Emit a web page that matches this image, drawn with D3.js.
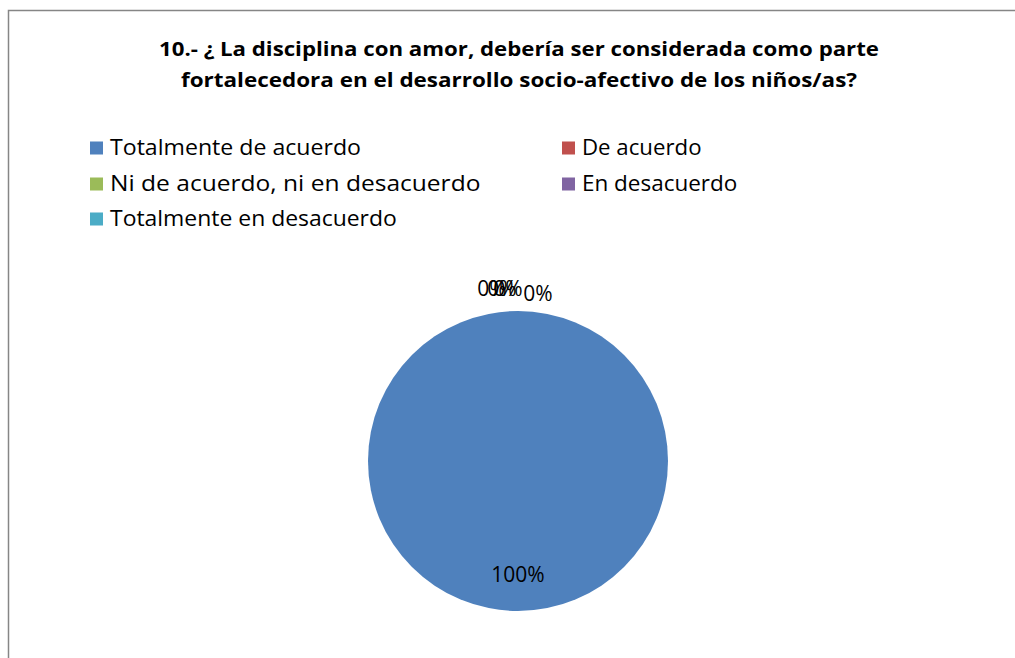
<!DOCTYPE html>
<html>
<head>
<meta charset="utf-8">
<script src="https://cdn.jsdelivr.net/npm/d3@7"></script>
<style>
  html, body { margin: 0; padding: 0; background: #fff; }
  svg { display: block; }
  text { font-family: "Open Sans", "Noto Sans", sans-serif; }
</style>
</head>
<body>
<svg id="chart" width="1015" height="658"></svg>
<script>
// ---- data ----
const titleLines = [
  "10.- ¿ La disciplina con amor, debería ser considerada como parte",
  "fortalecedora en el desarrollo socio-afectivo de los niños/as?"
];
const categories = [
  "Totalmente de acuerdo",
  "De acuerdo",
  "Ni de acuerdo, ni en desacuerdo",
  "En desacuerdo",
  "Totalmente en desacuerdo"
];
const values = [100, 0, 0, 0, 0];
const colors = ["#4F81BD", "#C0504D", "#9BBB59", "#8064A2", "#4BACC6"];

// ---- layout ----
const svg = d3.select("#chart");
const W = 1015, H = 658;

// frame
svg.append("path")
  .attr("d", `M8.5,${H} L8.5,10.5 L${W},10.5`)
  .attr("fill", "none")
  .attr("stroke", "#868686")
  .attr("stroke-width", 1.5);

// title
const titleWidths = [720, 676];
svg.append("g").selectAll("text").data(titleLines).join("text")
  .attr("x", 519)
  .attr("y", (d, i) => 56 + i * 31)
  .attr("text-anchor", "middle")
  .attr("font-size", 20)
  .attr("font-weight", "bold")
  .attr("fill", "#000")
  .attr("textLength", (d, i) => titleWidths[i])
  .attr("lengthAdjust", "spacingAndGlyphs")
  .text(d => d);

// legend
const legend = svg.append("g");
const colX = [90, 562];
const rowY = [148, 184, 219];
const items = legend.selectAll("g").data(categories).join("g")
  .attr("transform", (d, i) => `translate(${colX[i % 2]},${rowY[Math.floor(i / 2)]})`);
items.append("rect")
  .attr("x", 0).attr("y", -6.5)
  .attr("width", 13).attr("height", 13)
  .attr("fill", (d, i) => colors[i]);
items.append("text")
  .attr("x", 20)
  .attr("dy", "0.35em")
  .attr("font-size", 21)
  .attr("fill", "#000")
  .attr("textLength", d => d.length * 11.95)
  .attr("lengthAdjust", "spacingAndGlyphs")
  .text(d => d);

// pie
const cx = 518, cy = 461, r = 150;
const pie = d3.pie().sort(null).value(d => d)(values);
const arc = d3.arc().innerRadius(0).outerRadius(r);
const g = svg.append("g").attr("transform", `translate(${cx},${cy})`);
g.selectAll("path").data(pie).join("path")
  .attr("d", arc)
  .attr("fill", (d, i) => colors[i]);

// labels
const total = d3.sum(values);
const fmt = v => Math.round(v / total * 100) + "%";
const innerLabel = d3.arc().innerRadius(r * 0.76).outerRadius(r * 0.76);
const outerLabel = d3.arc().innerRadius(r + 22).outerRadius(r + 22);
// small horizontal spread for the overlapping zero labels (best-fit style)
const zeroShift = [0, -26, -16, -10, 20];
g.selectAll("text.lbl").data(pie).join("text")
  .attr("class", "lbl")
  .attr("transform", (d, i) => {
    if (d.value > 0) {
      // large slice: label placed inside, toward the bottom
      const [x, y] = innerLabel.centroid({startAngle: Math.PI, endAngle: Math.PI});
      return `translate(${x},${y})`;
    }
    const [x, y] = outerLabel.centroid(d);
    return `translate(${x + zeroShift[i]},${y + (i === 4 ? 5 : 0)})`;
  })
  .attr("text-anchor", "middle")
  .attr("dy", "0.35em")
  .attr("font-size", 21)
  .attr("fill", "#000")
  .text(d => fmt(d.value));
</script>
</body>
</html>
